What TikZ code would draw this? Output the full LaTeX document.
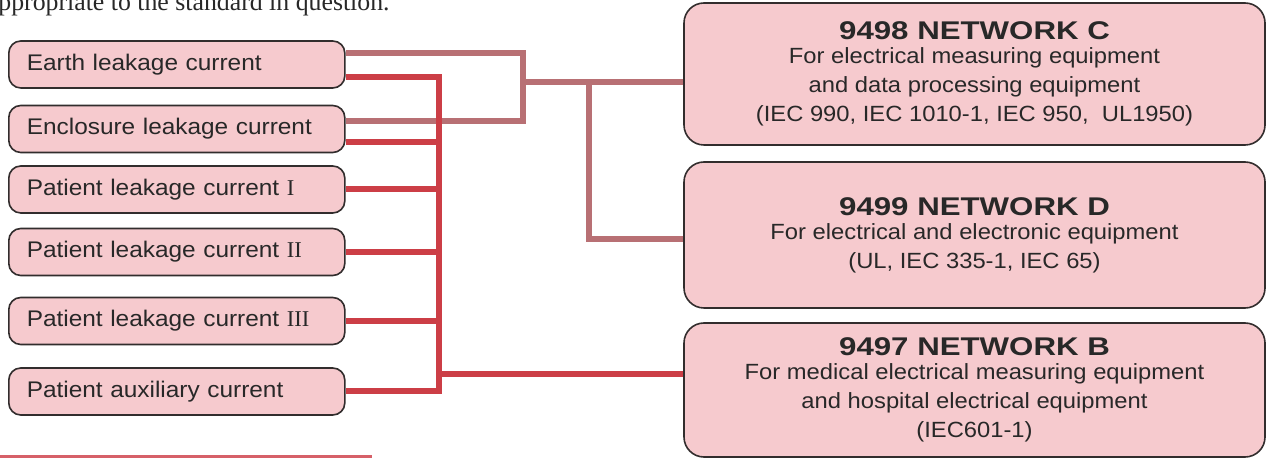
\documentclass[tikz,border=0pt]{standalone}
\usepackage{fontspec}
\usepackage{tikz}
\usepackage{xcolor}
\usetikzlibrary{positioning,calc}
\newfontfamily\labelfont[FakeStretch=1.08]{Liberation Sans}
\newfontfamily\headfont[FakeStretch=1.22]{Liberation Sans}
\newfontfamily\romfont{Liberation Serif}
\definecolor{boxpink}{RGB}{246,202,206}
\definecolor{boxedge}{RGB}{50,45,45}
\definecolor{wirered}{RGB}{204,62,70}
\definecolor{wiredull}{RGB}{184,112,116}
\definecolor{inkgray}{RGB}{40,40,40}
\definecolor{barred}{RGB}{214,96,104}
\newcommand{\nettitle}[1]{{\headfont\bfseries\fontsize{12.8}{15}\selectfont #1}\\[-2.5pt]}

\begin{document}
\begin{tikzpicture}[x=0.5pt, y=-0.5pt,
    leftbox/.style={draw=boxedge, fill=boxpink, line width=0.8pt, rounded corners=6pt,
        anchor=west, text width=150pt, align=left, minimum height=23.5pt, inner xsep=9pt,
        font=\labelfont\fontsize{11.3}{13}\selectfont, text=inkgray},
    netbox/.style={draw=boxedge, fill=boxpink, line width=0.8pt, rounded corners=10pt,
        minimum width=290.5pt, align=center, text=inkgray,
        font=\labelfont\fontsize{11}{14.5}\selectfont},
    redwire/.style={wirered, line width=3pt},
    dullwire/.style={wiredull, line width=3pt}]
    \useasboundingbox[fill=white] (0,0) rectangle (1267,458);

    % Cut-off page text and bar
    \node[font=\romfont\fontsize{12.9}{15}\selectfont, anchor=base west, inner sep=0pt, text=inkgray] (pagetxt) at (-2,11) {ppropriate to the standard in question.};
    \fill[barred] (0,455) rectangle (372,462);

    % Measured currents
    \node[leftbox] (earth) at (8,64.5) {Earth leakage current};
    \node[leftbox] (encl) at (8,129) {Enclosure leakage current};
    \node[leftbox] (pat1) at (8,189.5) {Patient leakage current {\romfont I}};
    \node[leftbox] (pat2) at (8,252) {Patient leakage current {\romfont II}};
    \node[leftbox] (pat3) at (8,321) {Patient leakage current {\romfont III}};
    \node[leftbox] (aux) at (8,391.5) {Patient auxiliary current};

    % Measuring networks
    \node[netbox, minimum height=71pt] (netC) at (974.5,74) {\nettitle{9498 NETWORK C}
        For electrical measuring equipment\\ and data processing equipment\\ (IEC 990, IEC 1010-1, IEC 950,~ UL1950)};
    \node[netbox, minimum height=73pt] (netD) at (974.5,235) {\nettitle{9499 NETWORK D}
        For electrical and electronic equipment\\ (UL, IEC 335-1, IEC 65)};
    \node[netbox, minimum height=67pt] (netB) at (974.5,390) {\nettitle{9497 NETWORK B}
        For medical electrical measuring equipment\\ and hospital electrical equipment\\ (IEC601-1)};

    % Junctions
    \coordinate (jC) at (523,82);
    \coordinate (jD) at (589,82);
    \coordinate (busB) at (439,391.5);
    \coordinate (jB) at (439,374);
    \coordinate (enclR) at ([yshift=-6.5pt]encl.east);

    % Network C / D wiring
    \draw[dullwire] ([yshift=5.75pt]earth.east) -| (jC) |- ([yshift=4pt]encl.east);
    \draw[dullwire] (jC) -- (netC.west |- jC);
    \draw[dullwire] (jD) |- ([yshift=-2pt]netD.west);

    % Network B wiring
    \draw[redwire] ([yshift=-6.25pt]earth.east) -| (busB) -- (aux.east);
    \draw[redwire] (enclR) -- (enclR -| busB);
    \foreach \n in {pat1,pat2,pat3}
        \draw[redwire] (\n.east) -- (\n.east -| busB);
    \draw[redwire] (jB) -- (netB.west |- jB);
\end{tikzpicture}
\end{document}
